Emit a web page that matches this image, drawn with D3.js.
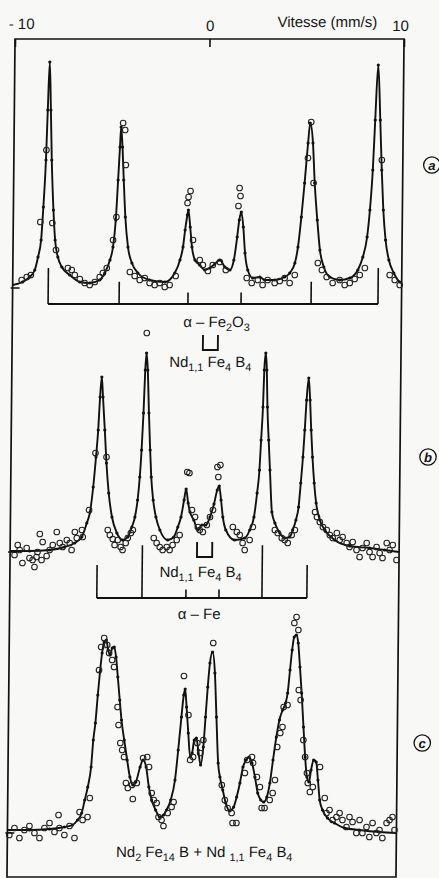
<!DOCTYPE html>
<html>
<head>
<meta charset="utf-8">
<script src="https://cdn.jsdelivr.net/npm/d3@7"></script>
<style>
	body { margin: 0; background: #f8f8f7; }
	text { font-family: "Liberation Sans", Arial, sans-serif; fill: #151515; white-space: pre; }
</style>
</head>
<body>
<div id="chart-area"></div>
<script>

// velocity axis (mm/s)
let velTicks = [-10, 0, 10];

// fitted curves, [velocity, absorption (arb. units)]
let curveA = [[-10.0,1.5],[-9.50,3],[-9.13,5.5],[-8.87,9],[-8.71,15.5],[-8.56,24],[-8.46,40.5],[-8.35,64],[-8.28,89],[-8.20,113],[-8.12,89],[-8.05,64],[-7.94,39],[-7.84,24],[-7.69,15.5],[-7.48,10.5],[-7.07,6.5],[-6.55,3],[-6.04,2.5],[-5.53,4],[-5.27,7.5],[-5.01,14],[-4.86,20.5],[-4.73,34],[-4.63,54],[-4.55,70.5],[-4.50,80.5],[-4.42,70.5],[-4.34,54],[-4.24,35.5],[-4.09,20.5],[-3.88,12.5],[-3.57,7.5],[-2.96,4],[-2.18,3],[-1.67,7.5],[-1.41,14],[-1.26,20.5],[-1.16,29],[-1.05,36.5],[-1.00,39],[-0.90,30.5],[-0.80,20.5],[-0.64,14],[-0.39,11.5],[-0.13,9],[0.13,10],[0.38,12],[0.64,14],[0.90,10.5],[1.16,9],[1.36,14],[1.52,25.5],[1.62,34],[1.72,38],[1.83,30.5],[1.93,17.5],[2.08,9],[2.34,5],[2.70,5.5],[2.96,4],[3.47,4],[3.98,5.5],[4.24,7.5],[4.50,12.5],[4.65,20.5],[4.81,35.5],[4.96,52.5],[5.12,72.5],[5.22,82.5],[5.37,72.5],[5.48,52.5],[5.63,34],[5.78,19],[5.99,10.5],[6.30,5.5],[6.81,4],[7.33,5],[7.74,9],[7.99,15.5],[8.20,25.5],[8.33,39],[8.46,59],[8.56,84],[8.69,111.5],[8.82,84],[8.92,59],[9.02,39],[9.15,24],[9.33,14],[9.59,7.5],[9.90,3],[10.0,2.5]];

let curveB = [[-10.0,0.5],[-9.00,0.5],[-7.97,1],[-7.20,2.5],[-6.68,4.5],[-6.32,7.5],[-6.07,14.5],[-5.91,20],[-5.76,32.5],[-5.63,47.5],[-5.53,61],[-5.45,77.5],[-5.37,87.5],[-5.30,77.5],[-5.19,61],[-5.09,44.5],[-4.96,29.5],[-4.78,17.5],[-4.52,9.5],[-4.22,6],[-3.96,7.5],[-3.75,12.5],[-3.60,17.5],[-3.47,26],[-3.37,37.5],[-3.29,51],[-3.21,69.5],[-3.14,91],[-3.08,99.5],[-3.01,91],[-2.93,69.5],[-2.85,51],[-2.78,37.5],[-2.67,26],[-2.52,17.5],[-2.31,11],[-1.90,6],[-1.59,7.5],[-1.39,12.5],[-1.23,17.5],[-1.08,26],[-0.98,31.5],[-0.87,24.5],[-0.77,20],[-0.57,16],[-0.36,11],[-0.15,13.5],[0.05,13.5],[0.26,17.5],[0.46,24],[0.62,31],[0.72,33],[0.82,26],[0.92,17.5],[1.08,11],[1.54,6],[2.06,7],[2.31,11],[2.52,17.5],[2.67,29.5],[2.78,41],[2.85,56],[2.93,72.5],[2.98,91],[3.05,99.5],[3.11,91],[3.16,72.5],[3.24,56],[3.32,41],[3.44,20],[3.60,14.5],[3.86,9.5],[4.11,7],[4.37,7.5],[4.52,11],[4.68,16],[4.81,22.5],[4.91,34.5],[5.01,47.5],[5.09,61],[5.17,76],[5.27,87],[5.35,76],[5.42,61],[5.50,47.5],[5.60,34.5],[5.71,24.5],[5.91,16],[6.17,11],[6.68,6],[7.45,3],[8.48,2],[9.25,1],[10.0,0]];

let curveC = [[-10.0,1.5],[-8.87,1.5],[-7.84,2],[-7.07,3],[-6.66,4],[-6.40,6.5],[-6.19,10],[-6.04,16.5],[-5.89,23],[-5.73,33],[-5.63,46.5],[-5.53,55],[-5.42,69],[-5.32,80.5],[-5.22,90],[-5.12,95.5],[-5.01,96.5],[-4.91,91.5],[-4.81,89],[-4.70,92.5],[-4.60,93],[-4.50,88],[-4.40,78],[-4.29,66.5],[-4.19,56.5],[-4.04,46.5],[-3.88,36.5],[-3.73,28],[-3.57,24],[-3.42,25.5],[-3.21,33],[-3.06,36.5],[-2.90,33],[-2.75,23],[-2.60,16.5],[-2.39,11.5],[-2.18,8],[-1.98,9],[-1.83,11.5],[-1.62,16.5],[-1.41,26.5],[-1.26,41.5],[-1.11,58],[-1.00,69],[-0.93,72],[-0.85,63],[-0.75,50],[-0.64,38],[-0.54,40],[-0.44,46.5],[-0.33,47.5],[-0.23,41.5],[-0.10,34],[0.03,43],[0.13,58],[0.23,73],[0.33,85],[0.46,90.5],[0.59,80],[0.69,58],[0.80,35],[0.90,28],[1.05,21.5],[1.21,15],[1.41,11],[1.62,13],[1.77,18],[1.93,25],[2.08,33],[2.24,36.5],[2.39,38],[2.54,35],[2.70,28],[2.85,20],[3.01,16.5],[3.16,15.5],[3.32,18],[3.47,25],[3.62,36.5],[3.78,48],[3.93,56.5],[4.09,61.5],[4.24,65],[4.34,70],[4.45,81.5],[4.55,91.5],[4.65,98],[4.76,99],[4.86,95],[4.96,83],[5.06,70],[5.17,53],[5.27,38],[5.37,28],[5.48,25.5],[5.58,31.5],[5.71,36.5],[5.84,35.5],[5.94,26.5],[6.04,16.5],[6.19,11.5],[6.45,7.5],[6.81,5],[7.33,2.5],[8.10,1.5],[9.13,0.5],[10.0,0]];

// measured points (open circles)
let pointsA = [[-9.54,4],[-9.28,5.5],[-9.07,6.5],[-8.33,69],[-8.61,33],[-7.99,32.5],[-7.79,19],[-7.17,10],[-6.97,9],[-6.81,6.5],[-6.55,4.5],[-6.30,2.5],[-6.04,1.5],[-5.78,3],[-5.53,5.5],[-5.37,7.5],[-5.17,10],[-4.86,24],[-4.70,35.5],[-4.40,82.5],[-4.29,79],[-4.24,61.5],[-3.98,8],[-3.73,6],[-3.47,4],[-3.21,5],[-2.96,2.5],[-2.70,1.5],[-2.44,2.5],[-2.18,0.5],[-1.93,1.5],[-1.62,6],[-0.90,48.5],[-1.00,45.5],[-1.05,42.5],[-0.75,24],[-0.39,14],[-0.23,11.5],[0.03,8.5],[0.28,11.5],[0.64,13],[0.95,9],[1.62,50],[1.67,46],[1.57,41],[2.03,5],[2.29,2.5],[2.60,4],[2.85,1.5],[3.11,4],[3.47,2.5],[3.73,3.5],[3.98,5],[4.24,2.5],[4.50,6.5],[5.12,65],[5.27,83],[5.42,52.5],[5.68,12.5],[5.89,9],[6.14,5.5],[6.45,2.5],[6.81,4],[7.07,1.5],[7.33,2.5],[7.58,4.5],[7.84,6.5],[8.10,10],[8.92,64],[9.38,6.5],[9.64,4],[9.90,1.5]];

let pointsB = [[-9.77,-1.5],[-9.61,3.5],[-9.36,-5.5],[-9.15,2],[-9.00,-3],[-8.74,-7.5],[-8.59,0],[-8.38,-4],[-8.48,9],[-8.33,5],[-7.61,10],[-7.45,4.5],[-7.30,2.5],[-7.09,6],[-6.94,4.5],[-6.84,1],[-6.68,10],[-6.58,7],[-6.32,11],[-6.27,7.5],[-8.84,-4],[-8.64,-2.5],[-9.51,1],[-7.97,1],[-8.12,-2],[-7.81,3.5],[-5.96,21],[-5.66,49.5],[-5.09,47.5],[-4.99,11],[-4.88,8.5],[-4.73,6.5],[-4.63,3.5],[-4.47,6],[-4.32,2.5],[-4.22,1],[-4.06,4.5],[-3.96,7],[-3.80,9.5],[-3.70,11],[-3.08,109.5],[-2.62,7],[-2.47,4.5],[-2.31,2.5],[-2.16,1],[-1.95,2.5],[-1.80,1],[-1.65,3.5],[-1.44,6],[-1.29,8.5],[-0.93,40],[-0.82,39.5],[-0.67,21],[-0.51,17.5],[-0.36,12.5],[-0.26,11],[-0.10,10],[0.10,13.5],[0.26,17.5],[0.41,21],[0.62,42.5],[0.67,37.5],[0.77,43.5],[1.44,12.5],[1.65,10],[1.80,8.5],[1.95,4.5],[2.06,1],[2.31,6],[2.47,12.5],[3.60,11],[3.75,9.5],[3.96,7],[4.11,6],[4.27,4.5],[4.47,8.5],[4.63,11],[5.66,20],[5.76,17.5],[5.91,15],[6.07,12.5],[6.27,11],[6.43,8.5],[6.58,7],[6.79,9.5],[6.94,6],[7.09,7.5],[7.30,4.5],[7.45,2.5],[7.61,5],[7.81,1],[7.97,-2.5],[8.12,2],[8.33,4.5],[8.48,0],[8.64,-2.5],[8.84,2.5],[9.00,-0.5],[9.15,-3],[9.36,4.5],[9.51,1],[9.67,3.5],[9.87,-4]];

let pointsC = [[-9.90,-1],[-9.64,2.5],[-9.38,-2.5],[-9.13,1.5],[-8.87,3.5],[-8.61,0],[-8.35,-2.5],[-8.10,2.5],[-7.84,5],[-7.58,0.5],[-7.38,9],[-7.33,2.5],[-7.07,-1],[-6.81,3.5],[-6.55,-2.5],[-6.30,10.5],[-6.14,6.5],[-5.89,8],[-5.78,17.5],[-5.37,81.5],[-5.27,93],[-5.12,97.5],[-4.96,94],[-4.86,90],[-4.70,86.5],[-4.60,83],[-4.40,63],[-4.34,54],[-4.24,45],[-4.14,41.5],[-4.04,38],[-3.93,25],[-3.83,22.5],[-3.62,24],[-3.57,17],[-3.37,25],[-3.06,37.5],[-2.85,38],[-2.75,33],[-2.60,20],[-2.49,16.5],[-2.34,15],[-2.24,8],[-2.08,6.5],[-1.98,3.5],[-1.77,10],[-1.57,13],[-1.47,15.5],[-1.00,78.5],[-0.75,59],[-0.64,36.5],[-0.49,38],[-0.28,45],[-0.13,40],[0.03,46.5],[0.49,95],[1.00,24],[1.16,16.5],[1.31,12.5],[1.52,10],[1.57,5],[1.77,5],[2.18,30],[2.29,36.5],[2.54,38],[2.60,35],[2.80,28],[2.96,23],[3.06,12.5],[3.21,12.5],[3.47,16.5],[3.62,20],[3.73,26.5],[3.83,43],[3.98,50],[4.09,53],[4.14,63],[4.34,64],[4.65,105],[4.76,108],[4.86,101.5],[4.91,71.5],[5.01,66.5],[5.17,46.5],[5.27,38],[5.37,30],[5.42,25],[5.53,20.5],[5.68,23],[6.04,33],[6.30,17.5],[6.40,10],[6.55,11.5],[6.71,6.5],[6.91,8],[7.07,10],[7.22,6.5],[7.43,3],[7.58,8],[7.74,5.5],[7.94,0],[8.10,6.5],[8.25,0],[8.46,3],[8.61,-2],[8.77,5],[8.97,0],[9.13,1.5],[9.28,-2.5],[9.49,5],[9.64,6.5],[9.79,8],[9.90,1.5]];

// line positions of the reference compounds and their relative intensities
let hematiteLines = [-8.17, -4.52, -0.98, 1.75, 5.35, 8.79];
let hematiteIntensity = [3, 1.85, 0.95, 0.95, 1.85, 3];
let ironLines = [-5.52, -3.20, -0.94, 0.76, 2.97, 5.28];
let ironIntensity = [2.75, 4.4, 0.7, 0.7, 4.4, 2.75];
let ndDoubletA = [-0.19, 0.58];
let ndDoubletB = [-0.39, 0.39];

let width = 439,
	height = 878;

let svg = d3.select("#chart-area")
	.append("svg")
	.attr("width", width)
	.attr("height", height);

// the printed page is slightly sheared
let g = svg.append("g")
	.attr("transform", "translate(0.4,0) skewX(-0.55)");

let x = d3.scaleLinear().domain([-10, 10]).range([15, 404]);

let yA = d3.scaleLinear().domain([0, 113]).range([288, 62]);
let yB = d3.scaleLinear().domain([0, 100]).range([552, 352]);
let yC = d3.scaleLinear().domain([0, 100]).range([833, 633]);

let stickScale = d3.scaleLinear().domain([0, 1]).range([0, 12]);

// frame
g.append("rect")
	.attr("x", x(-10))
	.attr("y", 39)
	.attr("width", x(10) - x(-10))
	.attr("height", 838)
	.attr("fill", "none")
	.attr("stroke", "#111")
	.attr("stroke-width", 1.7);

// velocity axis on top
let xAxis = d3.axisTop(x)
	.tickValues(velTicks)
	.tickSizeInner(-8)
	.tickSizeOuter(0)
	.tickPadding(8)
	.tickFormat(d => d < 0 ? "- " + Math.abs(d) : d);

let ax = g.append("g")
	.attr("transform", "translate(0,39)")
	.call(xAxis);
ax.select(".domain").remove();
ax.selectAll("line").attr("stroke", "#111").attr("stroke-width", 1.6);
ax.selectAll("text")
	.attr("font-size", 15)
	.attr("font-family", "Liberation Sans, Arial, sans-serif")
	.attr("fill", "#151515")
	.attr("dx", d => d < 0 ? 6 : (d > 0 ? -4 : 0))
	.attr("dy", d => d < 0 ? -2 : 0);

g.append("text")
	.attr("x", x(10) - 27)
	.attr("y", 27)
	.attr("text-anchor", "end")
	.attr("font-size", 15)
	.text("Vitesse (mm/s)");

function drawSpectrum(curve, points, y) {
	let line = d3.line()
		.x(d => x(d[0]))
		.y(d => y(d[1]))
		.curve(d3.curveMonotoneX);

	g.append("path")
		.datum(curve)
		.attr("d", line)
		.attr("fill", "none")
		.attr("stroke", "#111")
		.attr("stroke-width", 1.9);

	g.append("g")
		.selectAll("circle")
		.data(curve.slice(1, -1))
		.enter()
		.append("circle")
		.attr("cx", d => x(d[0]))
		.attr("cy", d => y(d[1]))
		.attr("r", 1.6)
		.attr("fill", "#111");

	g.append("g")
		.selectAll("circle")
		.data(points)
		.enter()
		.append("circle")
		.attr("cx", d => x(d[0]))
		.attr("cy", d => y(d[1]))
		.attr("r", 2.8)
		.attr("fill", "none")
		.attr("stroke", "#222")
		.attr("stroke-width", 1.1);

	// baseline mark on the left edge
	g.append("line")
		.attr("x1", x(-10) - 2)
		.attr("x2", x(-10) + 7)
		.attr("y1", y(0))
		.attr("y2", y(0))
		.attr("stroke", "#111")
		.attr("stroke-width", 1.6);
}

drawSpectrum(curveA, pointsA, yA);
drawSpectrum(curveB, pointsB, yB);
drawSpectrum(curveC, pointsC, yC);

function drawSticks(lines, intensity, baseY) {
	g.append("line")
		.attr("x1", x(lines[0]))
		.attr("x2", x(lines[lines.length - 1]))
		.attr("y1", baseY)
		.attr("y2", baseY)
		.attr("stroke", "#111")
		.attr("stroke-width", 1.8);
	g.append("g")
		.selectAll("line")
		.data(lines)
		.enter()
		.append("line")
		.attr("x1", d => x(d))
		.attr("x2", d => x(d))
		.attr("y1", baseY)
		.attr("y2", (d, i) => baseY - stickScale(intensity[i]))
		.attr("stroke", "#111")
		.attr("stroke-width", 1.6);
}

drawSticks(hematiteLines, hematiteIntensity, 304);
drawSticks(ironLines, ironIntensity, 598);

function drawBracket(doublet, top, bottom) {
	g.append("path")
		.attr("d", "M" + x(doublet[0]) + "," + top + "V" + bottom + "H" + x(doublet[1]) + "V" + top)
		.attr("fill", "none")
		.attr("stroke", "#111")
		.attr("stroke-width", 1.9);
}

drawBracket(ndDoubletA, 335, 350);
drawBracket(ndDoubletB, 542, 557);

// formula labels, second item marks a subscript
function formula(parts, cx, cy, size) {
	let t = g.append("text")
		.attr("x", cx)
		.attr("y", cy)
		.attr("text-anchor", "middle")
		.attr("font-size", size);
	let low = false;
	parts.forEach(p => {
		let sub = !!p[1];
		let span = t.append("tspan").text(p[0]);
		if (sub && !low) span.attr("dy", 4).attr("font-size", size * 0.72);
		if (sub && low) span.attr("font-size", size * 0.72);
		if (!sub && low) span.attr("dy", -4);
		low = sub;
	});
}

formula([["α – Fe"], ["2", 1], ["O"], ["3", 1]], x(0.5), 327, 15);
formula([["Nd"], ["1,1", 1], [" Fe"], ["4", 1], [" B"], ["4", 1]], x(0.2), 367, 15);
formula([["Nd"], ["1,1", 1], [" Fe"], ["4", 1], [" B"], ["4", 1]], x(-0.2), 577, 15);
formula([["α – Fe"]], x(-0.25), 619, 15);
formula([["Nd"], ["2", 1], [" Fe"], ["14", 1], [" B + Nd "], ["1,1", 1], [" Fe"], ["4", 1], [" B"], ["4", 1]], x(0.13), 857, 15);

// circled panel letters
let panelTags = [["a", 433, 165], ["b", 432, 457], ["c", 429, 743]];
let tags = g.append("g")
	.selectAll("g")
	.data(panelTags)
	.enter()
	.append("g")
	.attr("transform", d => "translate(" + d[1] + "," + d[2] + ")");
tags.append("circle")
	.attr("r", 8.2)
	.attr("fill", "none")
	.attr("stroke", "#111")
	.attr("stroke-width", 1.3);
tags.append("text")
	.attr("text-anchor", "middle")
	.attr("dy", "0.35em")
	.attr("font-size", 13)
	.attr("font-weight", "bold")
	.attr("font-style", "italic")
	.text(d => d[0]);

</script>
</body>
</html>
